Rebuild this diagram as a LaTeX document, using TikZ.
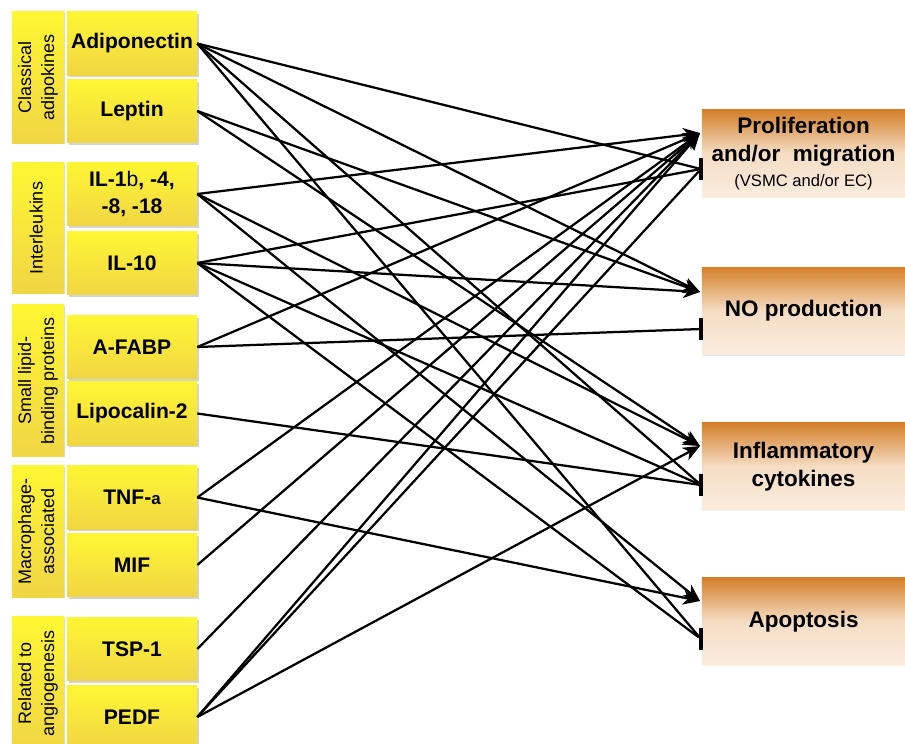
\documentclass[tikz,border=0pt]{standalone}
\usepackage{fontspec}
\setmainfont{Liberation Sans}
\usetikzlibrary{arrows.meta}
\usetikzlibrary{shadows}
\definecolor{ylwtop}{RGB}{255,246,51}
\definecolor{ylwbot}{RGB}{240,214,68}
\definecolor{orgtop}{RGB}{212,128,42}
\definecolor{orgmid}{RGB}{245,221,196}
\definecolor{orgbot}{RGB}{250,236,222}
\tikzset{
	group/.style={rectangle,inner sep=0pt,top color=ylwtop,bottom color=ylwbot,minimum width=1.3cm,
		drop shadow={shadow xshift=1pt,shadow yshift=-1pt,opacity=.3},font=\fontsize{12.8}{16.5}\selectfont},
	item/.style={rectangle,inner sep=0pt,top color=ylwtop,bottom color=ylwbot,minimum width=3.25cm,
		minimum height=1.58cm,align=center,drop shadow={shadow xshift=1.5pt,shadow yshift=-1.5pt,opacity=.35},
		font=\fontsize{15}{19}\selectfont\bfseries},
	effect/.style={rectangle,inner sep=0pt,top color=orgtop,bottom color=orgbot,middle color=orgmid,
		minimum width=5.075cm,minimum height=2.175cm,align=center,
		drop shadow={shadow xshift=1pt,shadow yshift=-1pt,opacity=.2},font=\fontsize{16}{20}\selectfont\bfseries},
	inhbar/.style={rectangle,fill=black,inner sep=0pt,minimum width=2.6pt,minimum height=16pt},
	act/.style={line width=1.6pt,-{Stealth[length=12pt,width=10pt,inset=3.5pt]}},
	inh/.style={line width=1.6pt},
}
\newcommand{\grouplabel}[1]{\rotatebox{90}{\begin{tabular}{@{}c@{}}#1\end{tabular}}}

\begin{document}
\begin{tikzpicture}[x=0.025cm,y=-0.025cm]
\useasboundingbox (0,0) rectangle (905,743);

\node (catadipo) at (38,77.5) [group,minimum height=3.275cm] {\grouplabel{Classical\\adipokines}};
\node (catil) at (38,228) [group,minimum height=3.25cm] {\grouplabel{Interleukins}};
\node (catlipid) at (38,380.5) [group,minimum height=3.775cm] {\grouplabel{Small lipid-\\binding proteins}};
\node (catmacro) at (38,531.5) [group,minimum height=3.275cm] {\grouplabel{Macrophage-\\associated}};
\node (catangio) at (38,683.5) [group,minimum height=3.325cm] {\grouplabel{Related to\\angiogenesis}};

\node (adipo) at (132,43.5) [item] {Adiponectin};
\node (leptin) at (132,111) [item] {Leptin};
\node (il1) at (132,194) [item] {IL-1{\mdseries b}, -4,\\-8, -18};
\node (il10) at (132,263) [item] {IL-10};
\node (afabp) at (132,347) [item] {A-FABP};
\node (lcn2) at (132,413.5) [item] {Lipocalin-2};
\node (tnf) at (132,497.5) [item] {TNF-{\fontsize{12}{14}\selectfont a}};
\node (mif) at (132,565) [item] {MIF};
\node (tsp1) at (132,649) [item] {TSP-1};
\node (pedf) at (132,717) [item] {PEDF};

\node (prolif) at (803.5,153.5) [effect] {Proliferation\\and/or\ \ migration\\[-2pt]{\mdseries\fontsize{11.8}{14}\selectfont (VSMC and/or EC)}};
\node (noprod) at (803.5,311) [effect] {NO production};
\node (inflam) at (803.5,466.5) [effect] {Inflammatory\\cytokines};
\node (apopt) at (803.5,621.5) [effect] {Apoptosis};

\coordinate (pa) at (700,133);
\coordinate (na) at (700,292);
\coordinate (ia) at (700,446);
\coordinate (aa) at (700,601);
\node (pi) at (701,169) [inhbar] {};
\node (ni) at (701,329) [inhbar] {};
\node (ii) at (701,485) [inhbar] {};
\node (ai) at (701,639) [inhbar] {};

\foreach \s/\t in {il1/pa,afabp/pa,tnf/pa,mif/pa,tsp1/pa,pedf/pa,adipo/na,leptin/na,il10/na,
	leptin/ia,il1/ia,pedf/ia,il1/aa,tnf/aa}
	\draw[act] (\s.east) -- (\t);
\foreach \s/\t in {adipo/pi,il10/pi,pedf/pi,afabp/ni,adipo/ii,il10/ii,lcn2/ii,adipo/ai,il10/ai}
	\draw[inh] (\s.east) -- (\t);
\end{tikzpicture}
\end{document}
